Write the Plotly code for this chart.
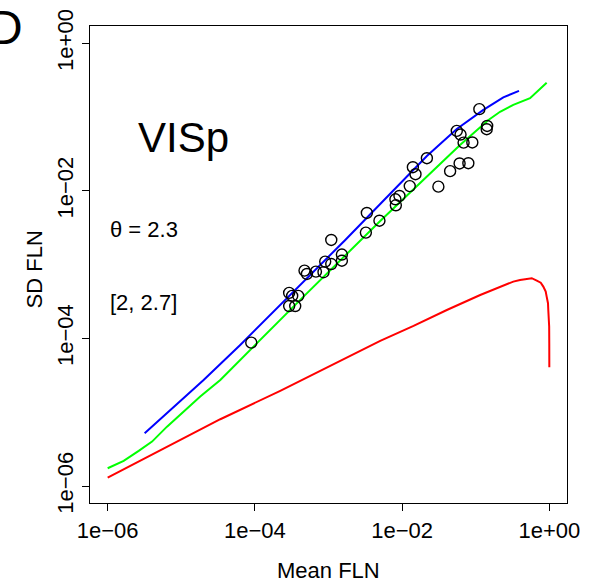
import plotly.graph_objects as go

# Observed points (Mean FLN, SD FLN)
pt_mean = [8.93e-5, 2.92e-4, 3.21e-4, 3.88e-4, 2.92e-4, 3.53e-4, 4.72e-4, 5.09e-4, 6.75e-4,
           8.55e-4, 9.02e-4, 1.09e-3, 1.09e-3, 1.52e-3, 1.52e-3, 3.22e-3, 3.32e-3, 4.92e-3,
           8.22e-3, 8.11e-3, 9.20e-3, 1.27e-2, 1.52e-2, 1.40e-2, 2.17e-2, 3.11e-2, 4.49e-2,
           6.04e-2, 7.94e-2, 6.84e-2, 8.99e-2, 5.53e-2, 6.22e-2, 0.112, 0.143, 0.141]
pt_sd = [8.77e-5, 4.14e-4, 3.77e-4, 3.77e-4, 2.75e-4, 2.75e-4, 8.30e-4, 7.48e-4, 8.04e-4,
         7.89e-4, 1.10e-3, 1.02e-3, 2.16e-3, 1.13e-3, 1.37e-3, 2.72e-3, 5.02e-3, 3.94e-3,
         6.38e-3, 7.69e-3, 8.53e-3, 1.16e-2, 1.68e-2, 2.09e-2, 2.77e-2, 1.14e-2, 1.85e-2,
         2.35e-2, 2.37e-2, 4.50e-2, 4.53e-2, 6.49e-2, 5.79e-2, 0.128, 0.0757, 0.0684]

# Blue curve
blue_mean = [3.18e-6, 2.01e-5, 6.32e-5, 4.13e-4, 1.69e-3, 5.04e-3, 2.17e-2, 5.53e-2, 0.127, 0.237, 0.387]
blue_sd = [5.19e-6, 2.74e-5, 8.17e-5, 5.32e-4, 2.16e-3, 6.65e-3, 2.97e-2, 6.90e-2, 0.125, 0.185, 0.226]

# Green curve
green_mean = [1.00e-6, 1.65e-6, 2.64e-6, 4.01e-6, 6.40e-6, 1.08e-5, 1.81e-5, 3.39e-5, 6.32e-5,
              4.13e-4, 5.04e-3, 6.12e-2, 0.149, 0.214, 0.324, 0.547, 0.920]
green_sd = [1.74e-6, 2.19e-6, 2.99e-6, 4.00e-6, 6.38e-6, 1.02e-5, 1.63e-5, 2.74e-5, 5.12e-5,
            3.33e-4, 3.91e-3, 4.19e-2, 0.0914, 0.118, 0.146, 0.180, 0.292]

# Red curve
red_mean = [1.00e-6, 3.43e-6, 9.70e-6, 3.39e-5, 2.21e-4, 5.04e-3, 1.43e-2, 4.05e-2, 0.115,
            0.264, 0.324, 0.400, 0.493, 0.577, 0.675, 0.764, 0.828, 0.893, 0.920, 0.959,
            0.968, 0.989, 0.995, 0.998, 0.9995]
red_sd = [1.30e-6, 2.45e-6, 4.22e-6, 8.04e-6, 1.95e-5, 9.27e-5, 1.48e-4, 2.43e-4, 3.88e-4,
          5.47e-4, 5.89e-4, 6.21e-4, 6.40e-4, 6.55e-4, 6.07e-4, 5.70e-4, 5.04e-4, 4.31e-4,
          3.68e-4, 3.00e-4, 2.43e-4, 1.88e-4, 1.45e-4, 8.61e-5, 4.07e-5]

tick_vals = [1e-6, 1e-4, 1e-2, 1]
tick_text = ["1e\u221206", "1e\u221204", "1e\u221202", "1e+00"]

FONT = "Liberation Sans, Arial, Helvetica, sans-serif"

fig = go.Figure()
fig.add_trace(go.Scatter(x=red_mean, y=red_sd, mode="lines",
                         line=dict(color="#FF0000", width=2)))
fig.add_trace(go.Scatter(x=green_mean, y=green_sd, mode="lines",
                         line=dict(color="#00FF00", width=2)))
fig.add_trace(go.Scatter(x=blue_mean, y=blue_sd, mode="lines",
                         line=dict(color="#0000FF", width=2)))
fig.add_trace(go.Scatter(x=pt_mean, y=pt_sd, mode="markers",
                         marker=dict(symbol="circle-open", size=11, color="black",
                                     line=dict(width=1.4, color="black"))))

axis_common = dict(type="log", showgrid=False, zeroline=False, showline=True, mirror=True,
                   linecolor="black", linewidth=1.3, ticks="outside", ticklen=7, tickwidth=1.3,
                   tickcolor="black", tickvals=tick_vals, ticktext=tick_text, automargin=False,
                   tickfont=dict(family=FONT, size=22, color="black"))

fig.update_layout(
    width=595, height=585,
    margin=dict(l=90, r=28, t=26, b=82),
    paper_bgcolor="white", plot_bgcolor="white",
    showlegend=False,
    xaxis=dict(range=[-6.24, 0.24], **axis_common),
    yaxis=dict(range=[-6.23, 0.234], tickangle=-90, **axis_common),
    annotations=[
        dict(text="Mean FLN", x=0.5, y=-0.1405, xref="paper", yref="paper", xanchor="center",
             yanchor="middle", showarrow=False, font=dict(family=FONT, size=22, color="black")),
        dict(text="SD FLN", x=-0.117, y=0.49, xref="paper", yref="paper", xanchor="center",
             yanchor="middle", textangle=-90, showarrow=False,
             font=dict(family=FONT, size=22, color="black")),
        dict(text="VISp", x=0.0964, y=0.767, xref="paper", yref="paper", xanchor="left",
             yanchor="middle", showarrow=False, font=dict(family=FONT, size=42, color="black")),
        dict(text="\u03b8 = 2.3", x=0.0377, y=0.574, xref="paper", yref="paper", xanchor="left",
             yanchor="middle", showarrow=False, font=dict(family=FONT, size=22, color="black")),
        dict(text="[2, 2.7]", x=0.0377, y=0.420, xref="paper", yref="paper", xanchor="left",
             yanchor="middle", showarrow=False, font=dict(family=FONT, size=22, color="black")),
        dict(text="D", x=-0.136, y=0.996, xref="paper", yref="paper", xanchor="right",
             yanchor="middle", showarrow=False, font=dict(family=FONT, size=48, color="black")),
    ],
)

fig.write_html("out.html")
